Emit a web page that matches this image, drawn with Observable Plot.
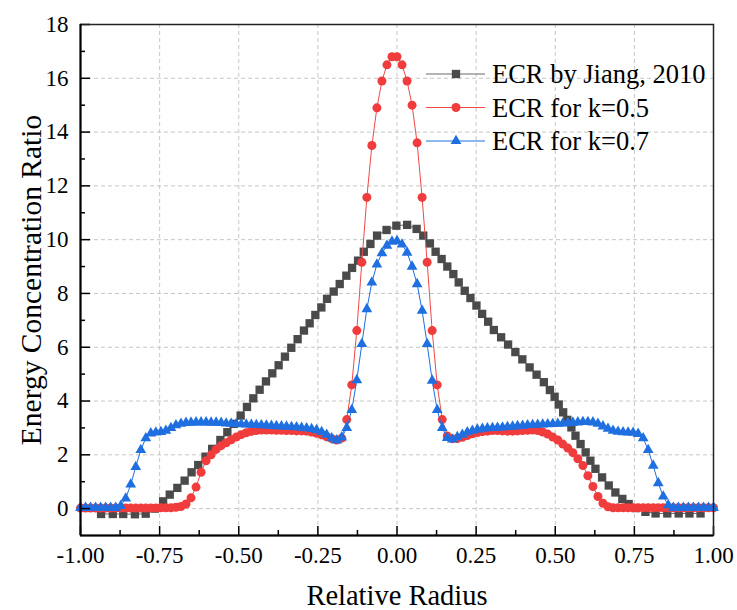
<!DOCTYPE html>
<html>
<head>
<meta charset="utf-8">
<script src="https://cdn.jsdelivr.net/npm/d3@7"></script>
<script src="https://cdn.jsdelivr.net/npm/@observablehq/plot@0.6"></script>
<style>
  body { margin: 0; background: #fff; }
  #chart { position: relative; width: 737px; height: 610px; }
</style>
</head>
<body>
<div id="chart"></div>
<script>
// ---------- data ----------
const seriesNames = ["ECR by Jiang, 2010", "ECR for k=0.5", "ECR for k=0.7"];
const seriesColors = ["#4a4a4a", "#f03c3c", "#1f6fe0"];
const lineColors = ["#6a6a6a", "#f04848", "#1f6fe0"];
const xTitle = "Relative Radius";
const yTitle = "Energy Concentration Ratio";

const xTickValues = [-1, -0.75, -0.5, -0.25, 0, 0.25, 0.5, 0.75, 1];
const xGridValues = [-0.75, -0.5, -0.25, 0, 0.25, 0.5, 0.75];
const xMinorValues = [-0.875, -0.625, -0.375, -0.125, 0.125, 0.375, 0.625, 0.875];
const yTickValues = [0, 2, 4, 6, 8, 10, 12, 14, 16, 18];
const yGridValues = [0, 2, 4, 6, 8, 10, 12, 14, 16];
const yMinorValues = [1, 3, 5, 7, 9, 11, 13, 15, 17];

// sample positions of the two computed series (127 evenly spaced radii)
const gridRadius = d3.range(-63, 64).map(i => i / 63);

// ECR for k=0.5
const ecrK05 = [
  0.02,0.02,0.02,0.02,0.02,0.02,0.02,0.02,0.02,0.02,
  0.02,0.02,0.02,0.02,0.02,0.02,0.03,0.03,0.03,0.05,
  0.08,0.17,0.4,0.8,1.35,1.78,2.0,2.2,2.34,2.45,
  2.56,2.66,2.75,2.82,2.87,2.9,2.92,2.92,2.92,2.91,
  2.91,2.9,2.9,2.89,2.89,2.88,2.85,2.8,2.74,2.67,
  2.6,2.55,2.62,3.31,4.6,6.62,9.16,11.57,13.5,14.9,
  15.9,16.5,16.8,16.8,16.5,15.9,15.0,13.6,11.57,9.16,
  6.62,4.6,3.31,2.7,2.6,2.6,2.65,2.72,2.78,2.83,
  2.86,2.88,2.9,2.9,2.89,2.88,2.88,2.89,2.9,2.91,
  2.92,2.9,2.85,2.77,2.66,2.55,2.4,2.25,2.08,1.85,
  1.6,1.22,0.82,0.45,0.2,0.07,0.03,0.03,0.03,0.03,
  0.03,0.03,0.03,0.03,0.03,0.03,0.03,0.03,0.03,0.03,
  0.03,0.03,0.03,0.03,0.03,0.03,0.03
];

// ECR for k=0.7
const ecrK07 = [
  0.03,0.03,0.03,0.03,0.03,0.03,0.03,0.03,0.1,0.38,
  0.9,1.55,2.18,2.62,2.8,2.83,2.85,2.9,3.0,3.1,
  3.16,3.19,3.2,3.21,3.21,3.21,3.2,3.2,3.19,3.17,
  3.16,3.15,3.14,3.13,3.12,3.11,3.1,3.09,3.08,3.07,
  3.06,3.05,3.04,3.03,3.01,2.99,2.96,2.92,2.85,2.75,
  2.62,2.54,2.65,3.0,3.67,4.78,6.12,7.42,8.41,9.08,
  9.5,9.78,9.93,9.95,9.82,9.52,9.0,8.35,7.36,6.12,
  4.76,3.67,3.0,2.63,2.57,2.66,2.75,2.84,2.9,2.94,
  2.97,2.99,3.0,3.01,3.02,3.04,3.05,3.07,3.08,3.1,
  3.11,3.12,3.13,3.14,3.15,3.16,3.17,3.18,3.2,3.21,
  3.22,3.22,3.21,3.16,3.06,2.97,2.9,2.86,2.84,2.83,
  2.82,2.78,2.62,2.18,1.6,0.95,0.45,0.13,0.03,0.03,
  0.03,0.03,0.03,0.03,0.03,0.03,0.03
];

const jiangRadius = [
  -0.935,-0.898,-0.865,-0.828,-0.794,-0.765,-0.739,-0.718,-0.694,-0.671,
  -0.649,-0.628,-0.605,-0.584,-0.558,-0.536,-0.516,-0.494,-0.474,-0.454,
  -0.434,-0.414,-0.394,-0.374,-0.354,-0.334,-0.314,-0.294,-0.276,-0.258,
  -0.239,-0.221,-0.2,-0.181,-0.16,-0.142,-0.123,-0.105,-0.084,-0.063,
  -0.033,-0.002,0.032,0.062,0.083,0.104,0.122,0.141,0.159,0.178,
  0.195,0.214,0.232,0.251,0.269,0.288,0.306,0.329,0.351,0.374,
  0.396,0.419,0.441,0.464,0.483,0.498,0.511,0.525,0.538,0.551,
  0.564,0.58,0.596,0.611,0.627,0.648,0.669,0.69,0.712,0.732,
  0.754,0.785,0.817,0.854,0.89,0.924,0.959
];
const jiangEcr = [
  -0.2,-0.2,-0.2,-0.21,-0.19,0.0,0.27,0.52,0.77,1.04,
  1.35,1.62,1.93,2.22,2.55,2.84,3.15,3.46,3.78,4.1,
  4.42,4.73,5.03,5.33,5.65,5.98,6.3,6.62,6.89,7.2,
  7.48,7.8,8.07,8.35,8.66,8.95,9.22,9.55,9.84,10.15,
  10.36,10.52,10.55,10.4,10.15,9.86,9.55,9.28,9.0,8.72,
  8.41,8.1,7.83,7.55,7.24,6.95,6.64,6.37,6.1,5.82,
  5.55,5.25,4.98,4.7,4.41,4.16,3.87,3.58,3.3,3.02,
  2.71,2.4,2.09,1.78,1.48,1.16,0.86,0.6,0.36,0.17,
  0.02,-0.12,-0.18,-0.18,-0.18,-0.18,-0.18
];

// ---------- tables ----------
const jiang = jiangRadius.map((r, i) => ({r, v: jiangEcr[i]}));
const k05 = gridRadius.map((r, i) => ({r, v: ecrK05[i]}));
const k07 = gridRadius.map((r, i) => ({r, v: ecrK07[i]}));

// ---------- layout ----------
const W = 737, H = 610;
const mL = 80, mR = 24, mT = 24, mB = 75;
const frameW = W - mL - mR, frameH = H - mT - mB;
const FONT = '"Liberation Serif", "Times New Roman", Times, serif';
const symbolR = [4.7, 4.5, 4.0];
const symbols = ["square", "circle", "triangle"];

const gridStyle = {stroke: "#c6c6c6", strokeOpacity: 1, strokeWidth: 1, strokeDasharray: "4,3"};

const plot = Plot.plot({
  width: W,
  height: H,
  marginLeft: mL,
  marginRight: mR,
  marginTop: mT,
  marginBottom: mB,
  style: {fontFamily: FONT, background: "#fff", color: "#000", overflow: "visible"},
  x: {domain: [-1, 1], label: null},
  y: {domain: [-1, 18], label: null},
  marks: [
    Plot.gridX(xGridValues, gridStyle),
    Plot.gridY(yGridValues, gridStyle),
    Plot.line(jiang, {x: "r", y: "v", stroke: lineColors[0], strokeWidth: 1}),
    Plot.dot(jiang, {x: "r", y: "v", symbol: symbols[0], r: symbolR[0], fill: seriesColors[0]}),
    Plot.line(k05, {x: "r", y: "v", stroke: lineColors[1], strokeWidth: 1}),
    Plot.dot(k05, {x: "r", y: "v", symbol: symbols[1], r: symbolR[1], fill: seriesColors[1]}),
    Plot.line(k07, {x: "r", y: "v", stroke: lineColors[2], strokeWidth: 1}),
    Plot.dot(k07, {x: "r", y: "v", symbol: symbols[2], r: symbolR[2], fill: seriesColors[2]}),
    // inward ticks
    Plot.ruleY(yTickValues, {insetRight: frameW - 10, stroke: "#000", strokeWidth: 1.5}),
    Plot.ruleY(yMinorValues, {insetRight: frameW - 5, stroke: "#000", strokeWidth: 1.5}),
    Plot.ruleX(xTickValues, {insetTop: frameH - 9, stroke: "#000", strokeWidth: 1.5}),
    Plot.ruleX(xMinorValues, {insetTop: frameH - 5, stroke: "#000", strokeWidth: 1.5}),
    Plot.frame({stroke: "#222", strokeWidth: 1.5}),
    Plot.ruleX([-1], {stroke: "#000", strokeWidth: 2}),
    Plot.ruleY([-1], {stroke: "#000", strokeWidth: 2}),
    Plot.axisX({ticks: xTickValues, tickSize: 0, tickPadding: 11, tickFormat: d => d.toFixed(2), fontSize: 23, label: null}),
    Plot.axisY({ticks: yTickValues, tickSize: 0, tickPadding: 12, tickFormat: d => String(d), fontSize: 23, label: null}),
    Plot.text([xTitle], {frameAnchor: "bottom", text: d => d, textAnchor: "middle", lineAnchor: "middle", dy: 60, fontSize: 28.5, fill: "#000"}),
    Plot.text([yTitle], {frameAnchor: "left", text: d => d, textAnchor: "middle", lineAnchor: "middle", rotate: -90, dx: -49, fontSize: 29.5, fill: "#000"})
  ]
});

document.getElementById("chart").appendChild(plot);

// ---------- legend ----------
const svg = d3.select(plot);
const legend = svg.append("g")
  .attr("font-family", FONT)
  .attr("font-size", 26.5)
  .attr("text-anchor", "start")
  .attr("fill", "#000");
const symbolTypes = [d3.symbolSquare, d3.symbolCircle, d3.symbolTriangle];
seriesNames.forEach((name, i) => {
  const y = 74 + i * 33.5;
  const g = legend.append("g");
  g.append("line").attr("x1", 426).attr("x2", 485).attr("y1", y).attr("y2", y)
    .attr("stroke", lineColors[i]).attr("stroke-width", 1.2);
  g.append("path")
    .attr("d", d3.symbol().type(symbolTypes[i]).size(Math.PI * symbolR[i] * symbolR[i])())
    .attr("transform", `translate(456,${y})`)
    .attr("fill", seriesColors[i]);
  g.append("text").attr("x", 492).attr("y", y + 9).attr("text-anchor", "start").text(name);
});
</script>
</body>
</html>
